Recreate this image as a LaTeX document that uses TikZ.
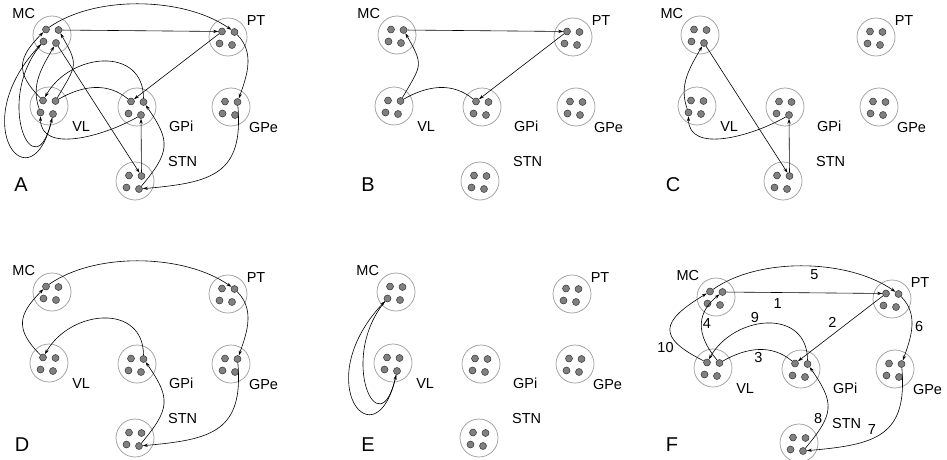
\documentclass[tikz,border=0pt]{standalone}
\usepackage{fontspec}
\setmainfont{Liberation Sans}
\usetikzlibrary{arrows.meta}

% one brain region: ring with four cells, named <panel><region><cell>
\newcommand\region[5]{%
  \node[region, label={[lbl, label distance=#5]#4:#2}] (#1#2) at #3 {};
  \node[cell] (#1#21) at ([shift={(-6,5.5)}]#1#2.center) {};
  \node[cell] (#1#22) at ([shift={(6.5,5)}]#1#2.center) {};
  \node[cell] (#1#23) at ([shift={(-8.5,-6.5)}]#1#2.center) {};
  \node[cell] (#1#24) at ([shift={(4,-8)}]#1#2.center) {};}

\newcommand\brainpanel[1]{%
  \region{#1}{MC}{(0,0)}{143}{16pt}
  \region{#1}{PT}{(176,-2)}{30}{13pt}
  \region{#1}{VL}{(-3,-71)}{-33}{19pt}
  \region{#1}{GPi}{(85,-72)}{-24}{29pt}
  \region{#1}{GPe}{(179,-72)}{-32}{19pt}
  \region{#1}{STN}{(83,-146)}{22}{32pt}}

\newcommand\directloop[1]{%
  \draw[link] (#1MC2) -- (#1PT1);
  \draw[link] (#1PT1) -- (#1GPi1);
  \draw[plain] (#1GPi1) to[out=140, in=30] (#1VL2);
  \draw[link] (#1VL2) to[out=60, in=-60, looseness=1.5] (#1MC2);}

\newcommand\hyperloop[1]{%
  \draw[link] (#1MC4) -- (#1STN2);
  \draw[link] (#1STN2) -- (#1GPi4);
  \draw[link] (#1GPi4) to[out=-150, in=-90] (#1VL3);
  \draw[link] (#1VL3) to[out=110, in=-120] (#1MC4);}

\newcommand\indirectloop[1]{%
  \draw[link] (#1MC1) to[out=35, in=145, looseness=.8] (#1PT2);
  \draw[link] (#1PT2) to[out=-45, in=70] (#1GPe2);
  \draw[link] (#1GPe2) to[out=-85, in=5, looseness=1.4] (#1STN4);
  \draw[link] (#1STN4) to[out=50, in=-55, looseness=1.4] (#1GPi2);
  \draw[link] (#1GPi2) to[out=90, in=60, looseness=1.35] (#1VL1);
  \draw[link] (#1VL1) to[out=135, in=-135, looseness=1.4] (#1MC1);}

\newcommand\thalamicloop[1]{%
  \draw[link] (#1VL4) .. controls +(-20,-95) and +(-80,-85) .. (#1MC3);
  \draw[link] (#1MC3) .. controls +(-50,-60) and +(-18,-78) .. (#1VL4);}

\begin{document}
\begin{tikzpicture}[x=1pt, y=1pt,
    region/.style={circle, draw=black!40, line width=0.7pt, minimum size=38pt, inner sep=0pt},
    cell/.style={circle, draw=black!80, fill=black!50, line width=0.5pt, minimum size=7pt, inner sep=0pt},
    lbl/.style={anchor=center, inner sep=0pt, font=\fontsize{14.5}{16}\selectfont},
    num/.style={inner sep=1pt, font=\fontsize{14.5}{16}\selectfont},
    link/.style={-{Stealth[length=5pt, width=3.2pt]}, line width=0.6pt},
    plain/.style={line width=0.6pt},
    letter/.style={inner sep=0pt, font=\fontsize{20}{24}\selectfont}]
  \useasboundingbox (0,0) rectangle (947,-460);

  % A: all loops
  \begin{scope}[shift={(52,-35)}]
    \brainpanel{a}
    \directloop{a}
    \hyperloop{a}
    \indirectloop{a}
    \thalamicloop{a}
  \end{scope}
  % B: direct
  \begin{scope}[shift={(397,-35)}]
    \brainpanel{b}
    \directloop{b}
  \end{scope}
  % C: hyperdirect
  \begin{scope}[shift={(700,-35)}]
    \brainpanel{c}
    \hyperloop{c}
  \end{scope}
  % D: indirect
  \begin{scope}[shift={(52,-292)}]
    \brainpanel{d}
    \indirectloop{d}
  \end{scope}
  % E: thalamocortical
  \begin{scope}[shift={(396,-292)}]
    \brainpanel{e}
    \thalamicloop{e}
  \end{scope}
  % F: numbered
  \begin{scope}[shift={(716,-297)}]
    \brainpanel{f}
    \draw[link] (fMC2) -- node[num, below=5pt, pos=.33] (n1) {1} (fPT1);
    \draw[link] (fPT1) -- node[num, above left=1pt, pos=.52] (n2) {2} (fGPi1);
    \draw[plain] (fGPi1) to[out=140, in=30] node[num, below=2pt] (n3) {3} (fVL2);
    \draw[link] (fVL2) .. controls +(-25,30) and +(-25,-20) .. (fMC2) node[num, right, pos=.5] (n4) {4};
    \draw[link] (fMC1) to[out=35, in=145, looseness=.8] node[num, below=2pt, pos=.55] (n5) {5} (fPT2);
    \draw[link] (fPT2) to[out=-45, in=70] node[num, right=2pt] (n6) {6} (fGPe2);
    \draw[link] (fGPe2) to[out=-85, in=5, looseness=1.4] node[num, above left, pos=.55] (n7) {7} (fSTN4);
    \draw[link] (fSTN4) to[out=50, in=-55, looseness=1.4] node[num, left=2pt, pos=.35] (n8) {8} (fGPi2);
    \draw[link] (fGPi2) to[out=90, in=60, looseness=1.35] node[num, above=1pt, pos=.6] (n9) {9} (fVL1);
    \draw[link] (fVL1) .. controls +(-50,25) and +(-50,-30) .. (fMC1) node[num, below left, pos=.3] (n10) {10};
  \end{scope}

  \node[letter] (labA) at (21,-185) {A};
  \node[letter] (labB) at (368,-185) {B};
  \node[letter] (labC) at (673,-185) {C};
  \node[letter] (labD) at (22,-445) {D};
  \node[letter] (labE) at (368,-445) {E};
  \node[letter] (labF) at (672,-445) {F};
\end{tikzpicture}
\end{document}
